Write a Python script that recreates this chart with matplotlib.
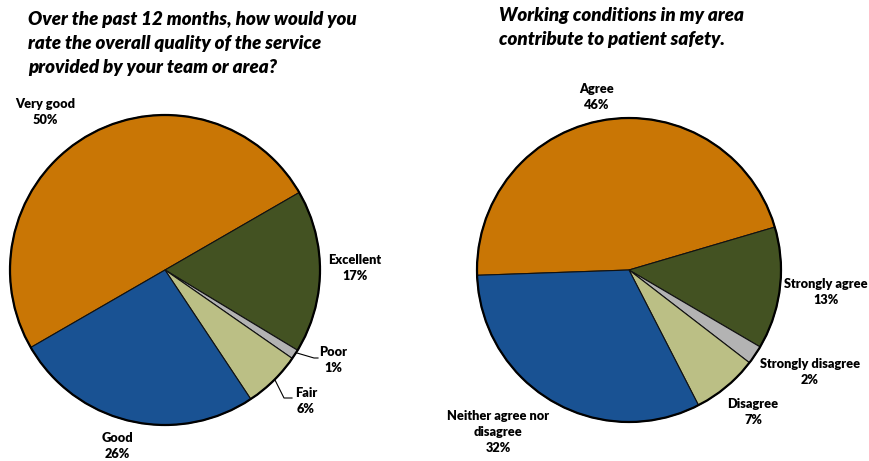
import matplotlib
matplotlib.use("Agg")
import matplotlib.pyplot as plt
from matplotlib.patches import Circle

plt.rcParams['font.family'] = ['Lato', 'DejaVu Sans']

# Left pie: service quality rating
quality_labels = ["Very good", "Excellent", "Poor", "Fair", "Good"]
quality_values = [50, 17, 1, 6, 26]

# Right pie: working conditions and patient safety
safety_labels = ["Agree", "Strongly agree", "Strongly disagree", "Disagree",
                 "Neither agree nor\ndisagree"]
safety_values = [46, 13, 2, 7, 32]

ORANGE = "#C97605"
DKGREEN = "#435222"
BLUE = "#195293"
OLIVE = "#BBBF85"
GRAY = "#B3B3B3"

quality_colors = [ORANGE, DKGREEN, GRAY, OLIVE, BLUE]
safety_colors = [ORANGE, DKGREEN, GRAY, OLIVE, BLUE]

W, H = 869, 461
fig = plt.figure(figsize=(W / 100, H / 100), dpi=100)
ax = fig.add_axes([0, 0, 1, 1])
ax.set_xlim(0, W)
ax.set_ylim(0, H)
ax.set_aspect('equal')
ax.axis('off')


def py(y):
    return H - y


def draw_pie(values, colors, center, radius, start):
    ax.pie(values, colors=colors, center=center, radius=radius,
           startangle=start, counterclock=False,
           wedgeprops=dict(edgecolor="#111111", linewidth=0.8))
    ax.add_patch(Circle(center, radius, fill=False, edgecolor="black",
                        linewidth=1.6, zorder=5))


draw_pie(quality_values, quality_colors, (165, py(270)), 155, 210)
draw_pie(safety_values, safety_colors, (629, py(270)), 152, 182)
ax.set_xlim(0, W)
ax.set_ylim(0, H)

title_kw = dict(fontsize=13.5, fontweight='heavy', fontstyle='italic',
                ha='left', va='top', linespacing=1.5, color='black')
ax.text(28, py(11), "Over the past 12 months, how would you\n"
        "rate the overall quality of the service\n"
        "provided by your team or area?", **title_kw)
ax.text(499, py(7), "Working conditions in my area\n"
        "contribute to patient safety.", **title_kw)

lab_kw = dict(fontsize=9.2, fontweight='heavy', ha='center', va='center',
              linespacing=1.45, color='black')


def label(text, value, x, y):
    ax.text(x, py(y), f"{text}\n{value}%", **lab_kw)


label(quality_labels[0], quality_values[0], 45, 112)
label(quality_labels[1], quality_values[1], 355, 268)
label(quality_labels[2], quality_values[2], 333, 360)
label(quality_labels[3], quality_values[3], 306, 401)
label(quality_labels[4], quality_values[4], 117, 446)

label(safety_labels[0], safety_values[0], 597, 97)
label(safety_labels[1], safety_values[1], 826, 292)
label(safety_labels[2], safety_values[2], 810, 372)
label(safety_labels[3], safety_values[3], 753, 412)
label(safety_labels[4], safety_values[4], 498, 432)

# leader lines for the thin slices
ax.plot([297, 314, 318], [py(353), py(358), py(358)], color="black", lw=0.8)
ax.plot([275, 284, 292], [py(380), py(398), py(398)], color="black", lw=0.8)

fig.savefig("out.png", dpi=100)
